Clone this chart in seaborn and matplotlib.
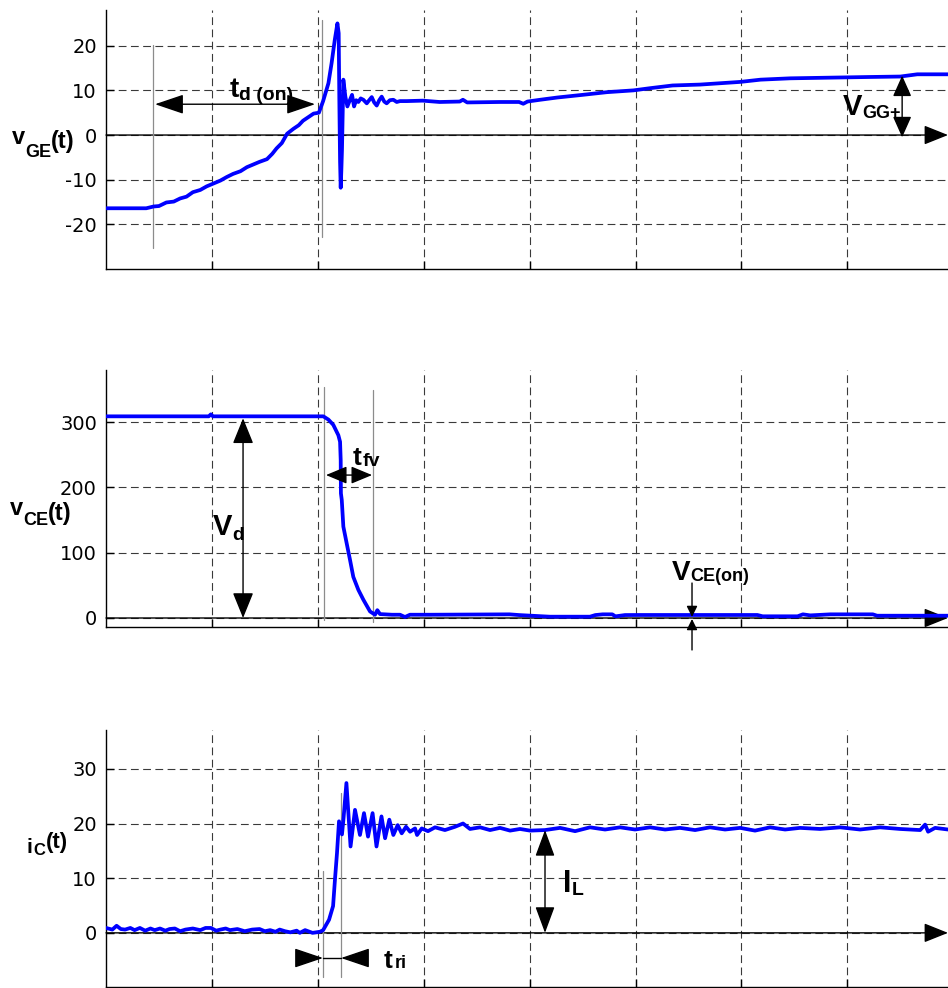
import matplotlib
matplotlib.use("Agg")
import matplotlib.pyplot as plt
import seaborn as sns
import pandas as pd
from matplotlib.transforms import IdentityTransform

# ---------------- data (time in grid divisions) ----------------
vge_t = [
    0.00, 0.38, 0.45, 0.50, 0.57, 0.64, 0.70, 0.76, 0.82, 0.89,
    0.95, 1.01, 1.08, 1.14, 1.20, 1.27, 1.33, 1.39, 1.45, 1.52,
    1.57, 1.61, 1.66, 1.71, 1.77, 1.82, 1.86, 1.91, 1.96, 2.01,
    2.05, 2.10, 2.13, 2.16, 2.185, 2.197, 2.203, 2.210, 2.216, 2.222,
    2.228, 2.241, 2.26, 2.279, 2.304, 2.323, 2.342, 2.362, 2.383, 2.405,
    2.43, 2.462, 2.485, 2.509, 2.532, 2.556, 2.58, 2.603, 2.627, 2.65,
    2.68, 2.713, 2.745, 2.776, 2.84, 2.99, 3.15, 3.34, 3.37, 3.41,
    3.72, 3.90, 3.94, 3.98, 4.10, 4.26, 4.50, 4.73, 4.98, 5.14,
    5.35, 5.61, 5.99, 6.18, 6.46, 7.21, 7.50, 7.66, 7.95]
vge_v = [
    -16.4, -16.4, -16.0, -15.9, -15.1, -14.9, -14.2, -13.8, -12.8, -12.3,
    -11.5, -10.9, -10.2, -9.4, -8.7, -8.1, -7.2, -6.6, -6.0, -5.4,
    -4.2, -3.0, -1.8, 0.3, 1.4, 2.2, 3.2, 4.0, 4.8, 5.0,
    7.6, 11.6, 16.1, 21.3, 25.0, 22.8, 8.0, -6.0, -11.8, -8.0,
    -3.4, 12.4, 8.6, 6.4, 7.9, 9.0, 6.4, 7.8, 7.4, 8.2,
    7.9, 7.1, 7.8, 8.5, 7.3, 6.6, 7.8, 8.6, 7.5, 7.1,
    7.8, 7.9, 7.4, 7.6, 7.6, 7.7, 7.4, 7.5, 7.9, 7.3,
    7.4, 7.4, 7.0, 7.5, 7.9, 8.4, 9.0, 9.6, 10.0, 10.5,
    11.1, 11.3, 11.9, 12.4, 12.7, 13.0, 13.1, 13.6, 13.6]

vce_t = [
    0.00, 0.97, 0.99, 1.01, 1.03, 2.052, 2.10, 2.146, 2.194, 2.21,
    2.216, 2.218, 2.226, 2.241, 2.273, 2.304, 2.335, 2.383, 2.43, 2.493,
    2.54, 2.562, 2.587, 2.70, 2.776, 2.823, 2.87, 3.06, 3.81, 3.90,
    4.19, 4.57, 4.62, 4.69, 4.78, 4.81, 4.90, 5.04, 5.42, 5.61,
    6.15, 6.20, 6.53, 6.58, 6.65, 6.84, 7.24, 7.28, 7.95]
vce_v = [
    309, 309, 312, 309, 309, 309, 304, 296, 280, 270,
    242, 191, 181, 140, 114, 89, 63, 43, 28, 10,
    5, 12, 6, 5, 5, 1.5, 5, 5, 5.6, 4.5,
    2, 2, 4.5, 5.6, 5.6, 2.5, 4.5, 4.6, 4.6, 4.6,
    4.6, 2.6, 2.6, 5.6, 4.0, 5.6, 5.6, 3.5, 3.5]

ic_t = [
    0.00, 0.06, 0.10, 0.14, 0.18, 0.23, 0.27, 0.32, 0.37, 0.42,
    0.46, 0.51, 0.56, 0.60, 0.65, 0.70, 0.75, 0.82, 0.89, 0.94,
    0.99, 1.04, 1.08, 1.13, 1.17, 1.24, 1.31, 1.38, 1.45, 1.50,
    1.55, 1.60, 1.64, 1.69, 1.74, 1.80, 1.83, 1.88, 1.95, 2.02,
    2.05, 2.106, 2.144, 2.162, 2.181, 2.20, 2.228, 2.243, 2.27, 2.309,
    2.351, 2.398, 2.436, 2.474, 2.517, 2.554, 2.601, 2.635, 2.675, 2.713,
    2.754, 2.792, 2.833, 2.871, 2.918, 2.937, 2.981, 3.04, 3.107, 3.20,
    3.295, 3.371, 3.437, 3.532, 3.626, 3.72, 3.815, 3.909, 4.004, 4.145,
    4.287, 4.429, 4.57, 4.712, 4.854, 4.995, 5.137, 5.279, 5.42, 5.562,
    5.703, 5.845, 5.987, 6.128, 6.27, 6.412, 6.553, 6.742, 6.931, 7.12,
    7.309, 7.498, 7.687, 7.734, 7.762, 7.828, 7.95]
ic_v = [
    0.9, 0.6, 1.3, 0.7, 0.6, 0.9, 0.5, 0.9, 0.4, 0.8,
    0.5, 0.8, 0.4, 0.7, 0.8, 0.3, 0.6, 0.8, 0.5, 0.9,
    0.9, 0.4, 0.6, 0.8, 0.5, 0.7, 0.3, 0.6, 0.7, 0.3,
    0.5, 0.2, 0.6, 0.3, 0.1, 0.4, 0.0, 0.5, 0.0, 0.2,
    0.5, 2.4, 4.9, 9.8, 14.6, 20.4, 18.0, 21.0, 27.4, 15.8,
    22.5, 17.9, 21.9, 17.6, 21.9, 15.8, 21.3, 17.3, 20.7, 17.9,
    19.7, 18.2, 19.4, 18.5, 19.1, 17.9, 19.1, 18.6, 19.3, 18.8,
    19.4, 20.0, 19.0, 19.3, 18.8, 19.2, 18.7, 19.0, 18.7, 18.8,
    19.2, 18.6, 19.3, 18.9, 19.3, 18.9, 19.3, 18.9, 19.2, 18.8,
    19.3, 18.9, 19.2, 18.7, 19.3, 18.9, 19.2, 19.0, 19.3, 18.9,
    19.3, 19.0, 18.8, 19.8, 18.5, 19.2, 18.9]

vge_ticks = [-20, -10, 0, 10, 20]
vce_ticks = [0, 100, 200, 300]
ic_ticks = [0, 10, 20, 30]
x_grid = [1, 2, 3, 4, 5, 6, 7]

# annotation markers (data units)
td_on_start, td_on_end = 0.444, 2.04
tfv_start, tfv_end = 2.059, 2.521
tri_start, tri_end = 2.049, 2.219
vgg_level = 13.3
vd_level = 306
il_level = 18.8

# ---------------- style ----------------
sns.set_style("white")
plt.rcParams['font.family'] = ['DejaVu Sans']
BOLD_FAMILY = ['Liberation Sans', 'DejaVu Sans']
BLUE = '#0000ff'
XMAX = 7.95
W, H = 948, 988

fig = plt.figure(figsize=(W / 100, H / 100), dpi=100)


def add_ax(top_px, bottom_px):
    left = 106 / W
    return fig.add_axes([left, 1 - bottom_px / H, 1 - left, (bottom_px - top_px) / H])


ax1 = add_ax(10, 269)
ax2 = add_ax(370, 627)
ax3 = add_ax(730, 987)


def setup(ax, ylim, yticks):
    ax.set_xlim(0, XMAX)
    ax.set_ylim(*ylim)
    ax.set_xticks(x_grid)
    ax.set_xticklabels([])
    ax.set_yticks(yticks)
    ax.set_yticklabels([str(v) for v in yticks])
    ax.grid(True, linestyle=(0, (7, 4)), color='#3a3a3a', linewidth=0.8)
    ax.set_axisbelow(True)
    for s in ['top', 'right']:
        ax.spines[s].set_visible(False)
    for s in ['left', 'bottom']:
        ax.spines[s].set_color('black')
        ax.spines[s].set_linewidth(1.0)
    ax.tick_params(direction='in', length=6, width=1, labelsize=14, pad=6.5,
                   colors='black', left=True, bottom=True)
    ax.set_xlabel('')
    ax.set_ylabel('')
    # zero axis with arrow
    ax.annotate('', xy=(XMAX, 0), xytext=(0, 0),
                arrowprops=dict(arrowstyle='-|>,head_length=1.5,head_width=0.6',
                                mutation_scale=10, color='black', lw=1.0,
                                shrinkA=0, shrinkB=0),
                annotation_clip=False, zorder=2)


def arrow(ax, p_from, p_to, style, hl, hw, lw=1.0, color='black'):
    ax.annotate('', xy=p_to, xytext=p_from,
                arrowprops=dict(arrowstyle=f'{style},head_length={hl},head_width={hw}',
                                mutation_scale=10, color=color, lw=lw,
                                shrinkA=0, shrinkB=0),
                annotation_clip=False, zorder=6)


def vline(ax, x, y0, y1):
    ax.plot([x, x], [y0, y1], color='#8c8c8c', lw=0.9, clip_on=False, zorder=2.5)


df1 = pd.DataFrame({'t': vge_t, 'v': vge_v})
df2 = pd.DataFrame({'t': vce_t, 'v': vce_v})
df3 = pd.DataFrame({'t': ic_t, 'v': ic_v})

for ax, df, ylim, ticks in [(ax1, df1, (-30, 28), vge_ticks),
                            (ax2, df2, (-13.8, 380), vce_ticks),
                            (ax3, df3, (-9.9, 37.1), ic_ticks)]:
    sns.lineplot(data=df, x='t', y='v', ax=ax, color=BLUE, linewidth=2.7,
                 estimator=None, sort=False, zorder=3)
    setup(ax, ylim, ticks)

# ---------- panel 1 annotations ----------
vline(ax1, td_on_start, -25.3, 20.1)
vline(ax1, td_on_end, -22.8, 25.7)
arrow(ax1, (0.463, 6.9), (1.974, 6.9), '<|-|>', 1.8, 0.61)
arrow(ax1, (7.517, -0.5), (7.517, vgg_level), '<|-|>', 1.3, 0.58)

# ---------- panel 2 annotations ----------
vline(ax2, tfv_start, -3, 354)
vline(ax2, tfv_end, -6, 349)
arrow(ax2, (2.077, 219), (2.512, 219), '<|-|>', 1.3, 0.54)
arrow(ax2, (1.294, 0), (1.294, vd_level), '<|-|>', 1.6, 0.65)
arrow(ax2, (5.533, 53.6), (5.533, 1.5), '-|>', 0.65, 0.32)
arrow(ax2, (5.533, -49), (5.533, -1.5), '-|>', 0.65, 0.32)

# ---------- panel 3 annotations ----------
vline(ax3, tri_start, -8, 11.3)
vline(ax3, tri_end, -8, 25.6)
arrow(ax3, (1.813, -4.6), (tri_start, -4.6), '-|>', 1.8, 0.61)
arrow(ax3, (2.455, -4.6), (tri_end, -4.6), '-|>', 1.8, 0.61)
ax3.plot([tri_start, tri_end], [-4.6, -4.6], color='black', lw=1, zorder=6)
arrow(ax3, (4.145, 0), (4.145, il_level), '<|-|>', 1.65, 0.61)

# ---------- composed bold labels ----------
renderer = fig.canvas.get_renderer()


def compose(x_disp, y_disp, pieces):
    x = x_disp
    for s, fs, dy, gap in pieces:
        x += gap
        t = fig.text(x, y_disp + dy, s, transform=IdentityTransform(), fontsize=fs,
                     fontweight='bold', family=BOLD_FAMILY, ha='left',
                     va='baseline', color='black', zorder=7)
        x += t.get_window_extent(renderer).width


def compose_data(ax, x, y, pieces):
    px, py = ax.transData.transform((x, y))
    compose(px, py, pieces)


def compose_fig(px, py_top, pieces):
    compose(px, H - py_top, pieces)


# y labels
compose_fig(12, 144, [('v', 17, 0, 0), ('GE', 13, -13, 0), ('(t)', 17, -4, 0)])
compose_fig(10, 515, [('v', 17, 0, 0), ('CE', 13, -10, 0), ('(t)', 17, -5, 0)])
compose_fig(27, 853, [('i', 15, 0, 0), ('C', 12, -2, 1), ('(t)', 16, 5, 0)])

# annotation texts
compose_data(ax1, 1.17, 8.5, [('t', 20, 0, 0), ('d (on)', 14, -3, 0)])
compose_data(ax1, 6.96, 4.5, [('V', 21, 0, 0), ('GG+', 13, -3, 0)])
compose_data(ax2, 2.332, 234, [('t', 19, 0, 0), ('fv', 14, -1, 1)])
compose_data(ax2, 1.01, 127, [('V', 21, 0, 0), ('d', 14, -5, 0)])
compose_data(ax2, 5.345, 58, [('V', 20, 0, 0), ('CE(on)', 13, -1, 0)])
compose_data(ax3, 2.625, -6.4, [('t', 19, 0, 0), ('ri', 13, 0, 2)])
compose_data(ax3, 4.315, 7.5, [('I', 22, 0, 0), ('L', 14, -3, 0)])

fig.savefig('out.png', dpi=100)
